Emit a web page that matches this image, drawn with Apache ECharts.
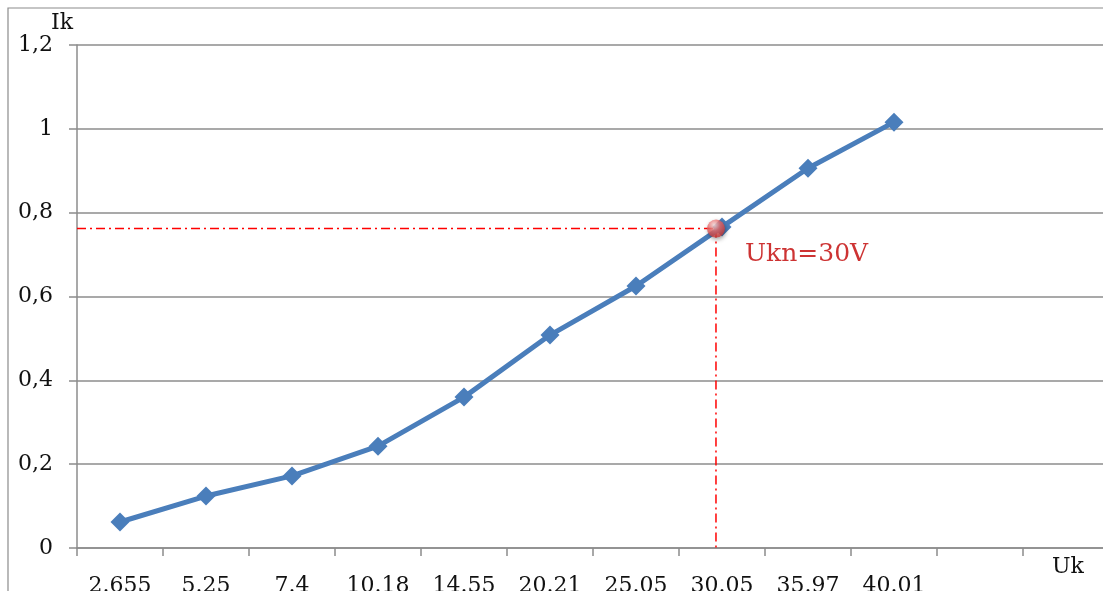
<!DOCTYPE html>
<html>
<head>
<meta charset="utf-8">
<script src="https://cdn.jsdelivr.net/npm/echarts@6/dist/echarts.min.js"></script>
<style>html,body{margin:0;padding:0;background:#fff}#c{width:1103px;height:591px}</style>
</head>
<body>
<div id="c"></div>
<script>
const categories = ['2.655','5.25','7.4','10.18','14.55','20.21','25.05','30.05','35.97','40.01','',''];
const ikValues = [0.062,0.124,0.172,0.243,0.36,0.508,0.625,0.766,0.906,1.016];
const yTicks = {min:0, max:1.2, interval:0.2};
const nominalPoint = [7.43, 0.762];   // position on hidden value axis (category index units)
const nominalLabel = 'Ukn=30V';

const chart = echarts.init(document.getElementById('c'));
const font = 'DejaVu Serif';
chart.setOption({
  animation:false,
  graphic:[
    {type:'rect', shape:{x:8,y:8,width:1200,height:700}, style:{fill:'none',stroke:'#8c8c8c',lineWidth:1.2}, z:-1},
    {type:'text', left:1052, top:556, style:{text:'Uk', font:'22px "DejaVu Serif"', fill:'#111'}}
  ],
  grid:{left:77, top:45, bottom:43, width:1032, containLabel:false, outerBoundsMode:'none'},
  xAxis:[
    {type:'category', data:categories, boundaryGap:true,
     axisLine:{lineStyle:{color:'#8c8c8c',width:1.5}},
     axisTick:{show:true, interval:0, length:8, lineStyle:{color:'#8c8c8c',width:1.5}},
     axisLabel:{interval:0, margin:27, fontFamily:font, fontSize:22, color:'#111'},
     splitLine:{show:false}},
    {type:'value', min:0, max:12, show:false}
  ],
  yAxis:{type:'value', min:yTicks.min, max:yTicks.max, interval:yTicks.interval,
     name:'Ik', nameLocation:'end', nameGap:6,
     nameTextStyle:{fontFamily:font, fontSize:22, color:'#111', align:'right', padding:[0,4,0,0]},
     axisLine:{show:true, lineStyle:{color:'#8c8c8c',width:1.5}},
     axisTick:{show:true, length:8, lineStyle:{color:'#8c8c8c',width:1.5}},
     axisLabel:{margin:24, fontFamily:font, fontSize:22, color:'#111',
       formatter:v=>String(+v.toFixed(1)).replace('.',',')},
     splitLine:{lineStyle:{color:'#8c8c8c',width:1.5}}},
  series:[
    {type:'line', data:ikValues, xAxisIndex:0, symbol:'diamond', symbolSize:19,
     lineStyle:{color:'#4a7ebb',width:5}, itemStyle:{color:'#4a7ebb'}, z:3},
    {type:'line', xAxisIndex:1, symbol:'none', silent:true,
     data:[[0,nominalPoint[1]],[nominalPoint[0],nominalPoint[1]]],
     lineStyle:{color:'#ff0000',width:1.5,type:[9,4,2,4]}, z:2},
    {type:'line', xAxisIndex:1, symbol:'none', silent:true,
     data:[[nominalPoint[0],nominalPoint[1]],[nominalPoint[0],0]],
     lineStyle:{color:'#ff0000',width:1.5,type:[9,4,2,4]}, z:2},
    {type:'scatter', xAxisIndex:1, data:[nominalPoint], symbolSize:18, z:5,
     itemStyle:{color:{type:'radial',x:0.4,y:0.3,r:0.75,colorStops:[{offset:0,color:'#ffe6e6'},{offset:0.45,color:'#ec6b6b'},{offset:1,color:'#c03030'}]},
       shadowBlur:4, shadowColor:'rgba(0,0,0,0.45)', shadowOffsetX:1, shadowOffsetY:2},
     label:{show:true, formatter:nominalLabel, position:'right', distance:20, offset:[0,26],
       fontFamily:font, fontSize:25, color:'#c00000'}}
  ]
});
</script>
</body>
</html>
